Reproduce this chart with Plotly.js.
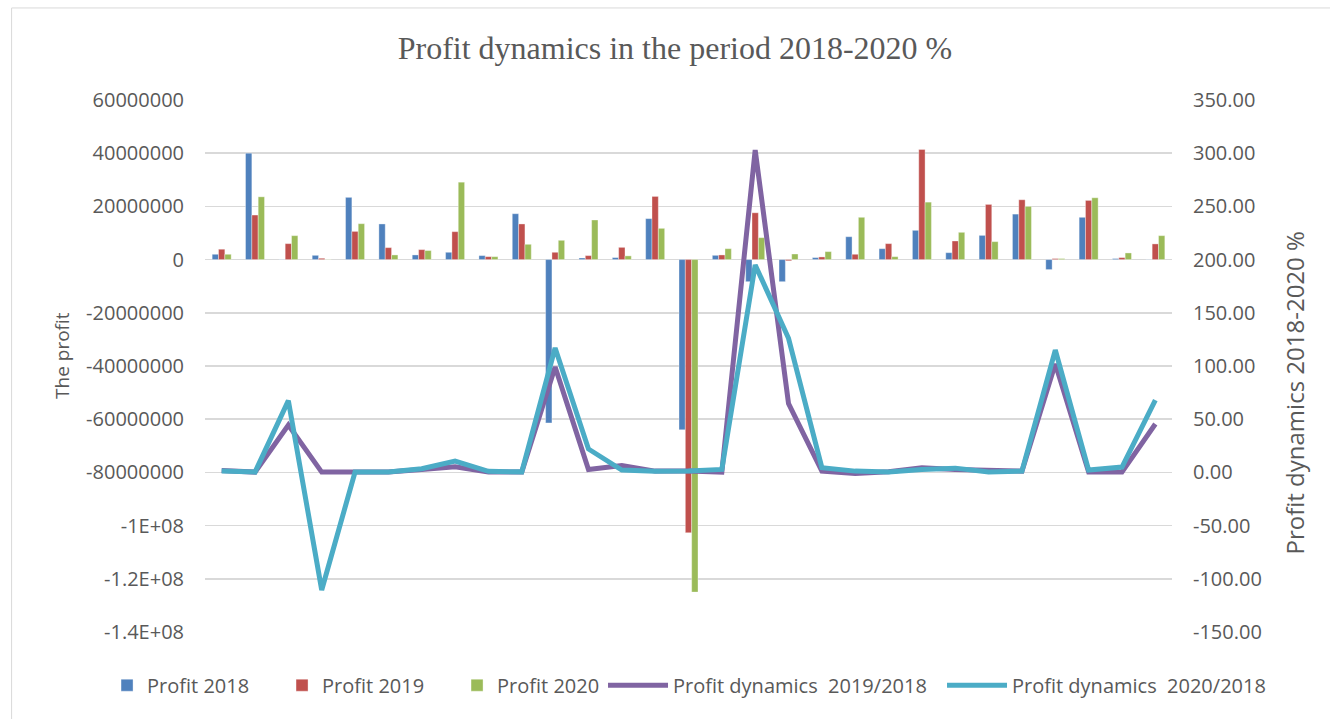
<!DOCTYPE html>
<html>
<head>
<meta charset="utf-8">
<script src="https://cdn.plot.ly/plotly-3.0.1.min.js"></script>
<style>html,body{margin:0;padding:0;background:#fff;}#chart{width:1330px;height:719px;}</style>
</head>
<body>
<div id="chart"></div>
<script>
const categories = ["1","2","3","4","5","6","7","8","9","10","11","12","13","14","15","16","17","18","19","20","21","22","23","24","25","26","27","28","29"];

const profit2018 = [2000000, 40000000, 100000, 1600000, 23400000, 13400000, 1750000, 2750000, 1500000, 17250000,
  -61400000, 600000, 750000, 15400000, -64000000, 1600000, -8300000, -8300000, 750000, 8600000,
  4100000, 11000000, 2600000, 9100000, 17100000, -3750000, 15900000, 400000, 100000];

const profit2019 = [3900000, 16750000, 6000000, 500000, 10600000, 4500000, 3750000, 10500000, 1100000, 13400000,
  2750000, 1500000, 4600000, 23750000, -102700000, 1750000, 17600000, -450000, 1000000, 2000000,
  6000000, 41400000, 7000000, 20750000, 22500000, 400000, 22250000, 750000, 5900000];

const profit2020 = [2000000, 23600000, 9000000, 100000, 13500000, 1750000, 3400000, 29100000, 1100000, 5750000,
  7250000, 14900000, 1400000, 11750000, -125000000, 4100000, 8250000, 2100000, 3000000, 15900000,
  1100000, 21600000, 10250000, 6750000, 20000000, 400000, 23250000, 2500000, 9000000];

const dyn2019 = [1.9, 0.3, 44.5, 0.3, 0.3, 0.3, 2.8, 5.3, 0.3, 0.3,
  99, 2.8, 6.5, 1.2, 1.2, 0.3, 303, 64.7, 1.2, -1.0,
  0.6, 4.4, 2.8, 2.2, 1.2, 102, 0.3, 0.3, 45.5];

const dyn2020 = [1.25, 0.3, 67.5, -110.5, 0.3, 0.3, 3.4, 10.6, 1.0, 0.5,
  117, 22, 2.2, 1.0, 1.2, 2.8, 195, 126, 4.4, 1.2,
  0.3, 2.8, 4.0, 0.3, 1.2, 115, 2.2, 5.0, 68];

const leftTickVals = [60000000, 40000000, 20000000, 0, -20000000, -40000000, -60000000, -80000000, -100000000, -120000000, -140000000];
const leftTickText = ["60000000", "40000000", "20000000", "0", "-20000000", "-40000000", "-60000000", "-80000000", "-1E+08", "-1.2E+08", "-1.4E+08"];
const rightTickVals = [350, 300, 250, 200, 150, 100, 50, 0, -50, -100, -150];
const rightTickText = ["350.00", "300.00", "250.00", "200.00", "150.00", "100.00", "50.00", "0.00", "-50.00", "-100.00", "-150.00"];

const seriesNames = ["Profit 2018", "Profit 2019", "Profit 2020", "Profit dynamics  2019/2018", "Profit dynamics  2020/2018"];
const colors = ["#4F81BD", "#C0504D", "#9BBB59", "#8064A2", "#4BACC6"];
const leftTitle = "The profit";
const rightTitle = "Profit dynamics 2018-2020 %";

const barData = [profit2018, profit2019, profit2020];
const traces = barData.map((vals, i) => ({
  type: "bar",
  x: categories,
  y: vals,
  name: seriesNames[i],
  marker: {color: colors[i], line: {color: "rgba(255,255,255,0.6)", width: 0.6}},
  yaxis: "y",
  legend: "legend"
}));
[dyn2019, dyn2020].forEach((vals, i) => {
  traces.push({
    type: "scatter",
    mode: "lines",
    x: categories,
    y: vals,
    name: seriesNames[3 + i],
    line: {color: colors[3 + i], width: 5, shape: "linear"},
    yaxis: "y2",
    legend: "legend2"
  });
});

const tickFont = {family: "Open Sans, sans-serif", size: 20, color: "#595959"};
const legendFont = {family: "Open Sans, sans-serif", size: 20, color: "#595959"};

const layout = {
  width: 1330,
  height: 719,
  margin: {l: 205, r: 158, t: 100, b: 87},
  paper_bgcolor: "#ffffff",
  plot_bgcolor: "#ffffff",
  showlegend: true,
  barmode: "group",
  bargap: 0.43,
  bargroupgap: 0,
  title: {
    text: "Profit dynamics in the period 2018-2020 %",
    font: {family: "Liberation Serif, Times New Roman, serif", size: 32, color: "#595959"},
    x: 0.5075, xanchor: "center",
    y: 0.933, yanchor: "middle", yref: "container"
  },
  xaxis: {
    type: "category",
    range: [-0.5, 28.5],
    showgrid: false,
    zeroline: false,
    showline: false,
    showticklabels: false,
    ticks: ""
  },
  yaxis: {
    range: [-140000000, 60000000],
    tickvals: leftTickVals,
    ticktext: leftTickText,
    tickfont: tickFont,
    showgrid: true,
    gridcolor: "#d9d9d9",
    gridwidth: 1.5,
    zeroline: false,
    showline: false,
    ticks: "",
    ticklabelstandoff: 20
  },
  yaxis2: {
    range: [-150, 350],
    overlaying: "y",
    side: "right",
    tickvals: rightTickVals,
    ticktext: rightTickText,
    tickfont: tickFont,
    showgrid: false,
    zeroline: false,
    showline: false,
    ticks: "",
    ticklabelstandoff: 20
  },
  annotations: [
    {text: leftTitle, xref: "paper", yref: "paper", x: -0.1479, y: 0.5207,
     xanchor: "center", yanchor: "middle", textangle: -90, showarrow: false,
     font: {family: "Open Sans, sans-serif", size: 19, color: "#595959"}},
    {text: rightTitle, xref: "paper", yref: "paper", x: 1.1272, y: 0.4483,
     xanchor: "center", yanchor: "middle", textangle: -90, showarrow: false,
     font: {family: "Open Sans, sans-serif", size: 24, color: "#595959"}}
  ],
  legend: {
    orientation: "h",
    x: -0.1013, xanchor: "left",
    y: -0.1, yanchor: "middle",
    font: legendFont,
    itemwidth: 30,
    entrywidth: 130,
    entrywidthmode: "pixels",
    bgcolor: "rgba(0,0,0,0)"
  },
  legend2: {
    orientation: "h",
    x: 0.4116, xanchor: "left",
    y: -0.1, yanchor: "middle",
    font: legendFont,
    itemwidth: 60,
    entrywidth: 264,
    entrywidthmode: "pixels",
    bgcolor: "rgba(0,0,0,0)"
  },
  shapes: [{
    type: "rect", xref: "paper", yref: "paper",
    x0: -0.2, x1: 1.3, y0: -0.3, y1: 1.173,
    line: {color: "#d9d9d9", width: 1}, fillcolor: "rgba(0,0,0,0)", layer: "below"
  }]
};

Plotly.newPlot("chart", traces, layout, {displayModeBar: false, staticPlot: true});
</script>
</body>
</html>
